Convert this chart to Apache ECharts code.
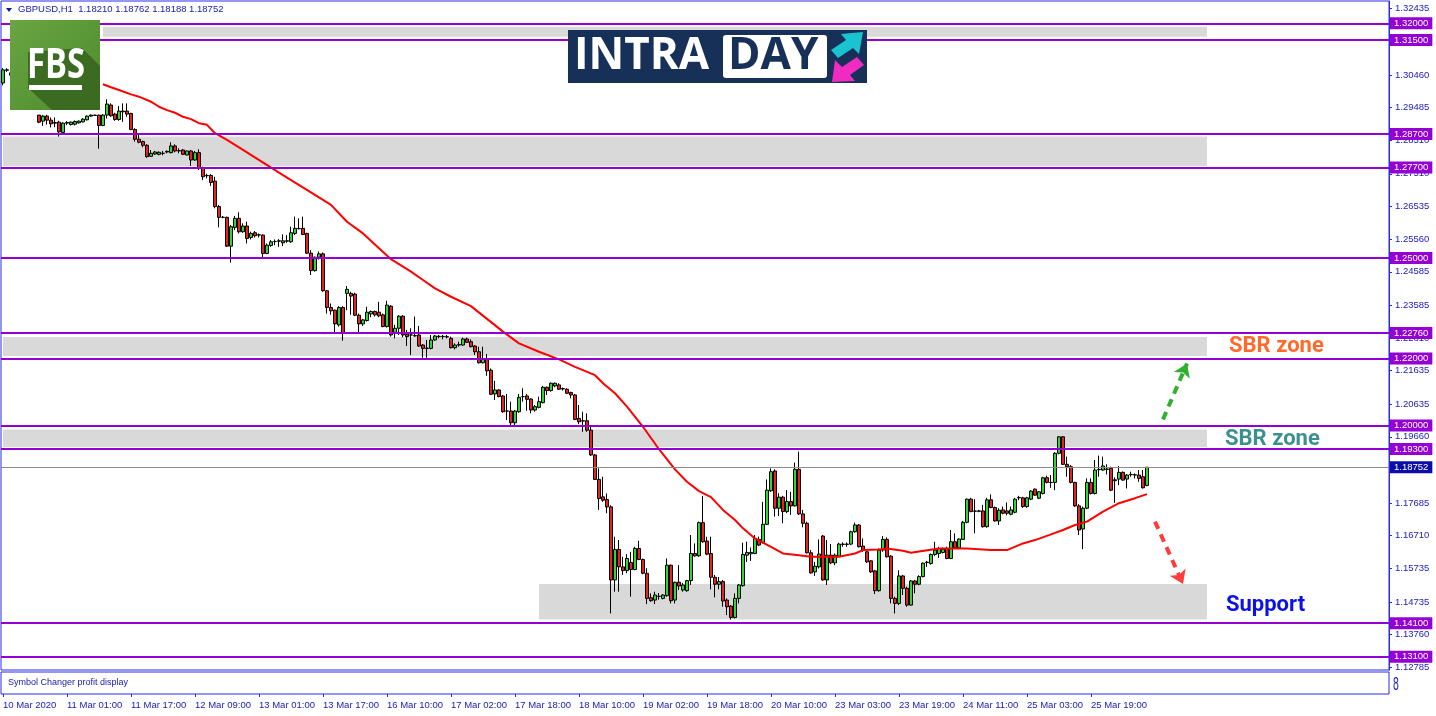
<!DOCTYPE html>
<html>
<head>
<meta charset="utf-8">
<script src="https://cdn.jsdelivr.net/npm/echarts@6/dist/echarts.min.js"></script>
<style>
  html, body { margin: 0; padding: 0; background: #fff; }
  #chart { width: 1436px; height: 716px; }
</style>
</head>
<body>
<div id="chart"></div>
<script>
// GBPUSD H1, one row per bar: [open, high, low, close]
const bars = [
  [1.3022,1.3066,1.3015,1.3061],[1.3061,1.3066,1.3055,1.3060],[1.3045,1.3066,1.3030,1.3052],[1.3052,1.3060,1.3012,1.3020],
  [1.3020,1.3028,1.2990,1.2998],[1.2998,1.3015,1.2985,1.3006],[1.3006,1.3010,1.2962,1.2975],[1.2975,1.2982,1.2952,1.2960],
  [1.2960,1.2968,1.2946,1.2950],[1.2926,1.2926,1.2902,1.2905],[1.2908,1.2926,1.2894,1.2923],[1.2923,1.2927,1.2898,1.2911],
  [1.2911,1.2919,1.2889,1.2900],[1.2904,1.2919,1.2890,1.2902],[1.2905,1.2909,1.2862,1.2876],[1.2874,1.2905,1.2872,1.2902],
  [1.2902,1.2908,1.2896,1.2904],[1.2898,1.2907,1.2895,1.2905],[1.2899,1.2910,1.2895,1.2907],[1.2903,1.2910,1.2901,1.2908],
  [1.2906,1.2917,1.2904,1.2914],[1.2912,1.2925,1.2910,1.2923],[1.2923,1.2928,1.2921,1.2926],[1.2925,1.2927,1.2924,1.2926],
  [1.2926,1.2927,1.2826,1.2895],[1.2895,1.2929,1.2893,1.2926],[1.2926,1.2973,1.2916,1.2959],[1.2956,1.2961,1.2921,1.2924],
  [1.2929,1.2933,1.2909,1.2913],[1.2913,1.2953,1.2909,1.2938],[1.2938,1.2961,1.2906,1.2936],[1.2938,1.2961,1.2921,1.2929],
  [1.2931,1.2933,1.2881,1.2883],[1.2883,1.2887,1.2847,1.2854],[1.2854,1.2867,1.2842,1.2845],[1.2847,1.2850,1.2830,1.2836],
  [1.2836,1.2839,1.2799,1.2802],[1.2803,1.2822,1.2802,1.2812],[1.2810,1.2819,1.2807,1.2816],[1.2809,1.2818,1.2806,1.2815],
  [1.2812,1.2819,1.2806,1.2812],[1.2816,1.2820,1.2812,1.2818],[1.2814,1.2845,1.2812,1.2834],[1.2834,1.2839,1.2815,1.2819],
  [1.2820,1.2827,1.2812,1.2819],[1.2822,1.2824,1.2807,1.2809],[1.2807,1.2820,1.2806,1.2819],[1.2819,1.2822,1.2774,1.2792],
  [1.2792,1.2819,1.2790,1.2814],[1.2814,1.2824,1.2762,1.2769],[1.2769,1.2772,1.2732,1.2742],[1.2745,1.2751,1.2737,1.2746],
  [1.2746,1.2750,1.2715,1.2725],[1.2729,1.2742,1.2648,1.2653],[1.2653,1.2658,1.2591,1.2621],[1.2621,1.2625,1.2618,1.2621],
  [1.2621,1.2623,1.2533,1.2535],[1.2535,1.2598,1.2486,1.2593],[1.2591,1.2625,1.2583,1.2618],[1.2618,1.2636,1.2573,1.2578],
  [1.2578,1.2603,1.2575,1.2595],[1.2595,1.2608,1.2543,1.2558],[1.2561,1.2578,1.2555,1.2573],[1.2575,1.2580,1.2561,1.2566],
  [1.2569,1.2573,1.2561,1.2568],[1.2568,1.2570,1.2499,1.2513],[1.2513,1.2543,1.2511,1.2538],[1.2537,1.2553,1.2533,1.2548],
  [1.2549,1.2555,1.2538,1.2549],[1.2550,1.2556,1.2533,1.2551],[1.2545,1.2570,1.2535,1.2551],[1.2551,1.2568,1.2545,1.2550],
  [1.2548,1.2593,1.2545,1.2575],[1.2573,1.2623,1.2568,1.2588],[1.2588,1.2618,1.2585,1.2587],[1.2588,1.2623,1.2568,1.2570],
  [1.2573,1.2575,1.2512,1.2514],[1.2514,1.2523,1.2449,1.2462],[1.2462,1.2504,1.2459,1.2502],[1.2502,1.2519,1.2495,1.2512],
  [1.2512,1.2516,1.2399,1.2402],[1.2402,1.2404,1.2334,1.2352],[1.2352,1.2364,1.2330,1.2342],[1.2344,1.2346,1.2275,1.2303],
  [1.2300,1.2356,1.2295,1.2352],[1.2352,1.2356,1.2253,1.2277],[1.2394,1.2416,1.2344,1.2406],[1.2394,1.2399,1.2330,1.2386],
  [1.2392,1.2396,1.2326,1.2329],[1.2329,1.2334,1.2277,1.2303],[1.2303,1.2318,1.2297,1.2315],[1.2313,1.2354,1.2310,1.2338],
  [1.2333,1.2343,1.2323,1.2340],[1.2340,1.2343,1.2325,1.2330],[1.2338,1.2369,1.2323,1.2327],[1.2330,1.2334,1.2293,1.2295],
  [1.2295,1.2372,1.2292,1.2359],[1.2356,1.2359,1.2265,1.2270],[1.2275,1.2300,1.2260,1.2290],[1.2290,1.2329,1.2270,1.2326],
  [1.2326,1.2329,1.2263,1.2270],[1.2272,1.2285,1.2237,1.2265],[1.2270,1.2290,1.2210,1.2270],[1.2268,1.2325,1.2265,1.2267],
  [1.2270,1.2297,1.2235,1.2237],[1.2240,1.2243,1.2202,1.2230],[1.2230,1.2255,1.2202,1.2231],[1.2230,1.2270,1.2227,1.2255],
  [1.2255,1.2270,1.2253,1.2267],[1.2266,1.2270,1.2260,1.2265],[1.2265,1.2270,1.2257,1.2266],[1.2265,1.2270,1.2260,1.2264],
  [1.2260,1.2265,1.2230,1.2232],[1.2232,1.2245,1.2227,1.2240],[1.2240,1.2250,1.2235,1.2241],[1.2240,1.2262,1.2238,1.2258],
  [1.2258,1.2262,1.2246,1.2248],[1.2250,1.2257,1.2233,1.2235],[1.2237,1.2240,1.2210,1.2220],[1.2220,1.2235,1.2185,1.2187],
  [1.2187,1.2235,1.2185,1.2200],[1.2197,1.2213,1.2148,1.2163],[1.2165,1.2170,1.2091,1.2093],[1.2094,1.2133,1.2076,1.2106],
  [1.2106,1.2108,1.2084,1.2086],[1.2088,1.2091,1.2038,1.2041],[1.2043,1.2094,1.2016,1.2043],[1.2043,1.2071,1.2001,1.2008],
  [1.2008,1.2046,1.2001,1.2043],[1.2041,1.2094,1.2038,1.2084],[1.2086,1.2111,1.2071,1.2086],[1.2088,1.2094,1.2044,1.2078],
  [1.2079,1.2081,1.2036,1.2046],[1.2046,1.2061,1.2041,1.2056],[1.2054,1.2086,1.2051,1.2071],[1.2068,1.2118,1.2066,1.2114],
  [1.2114,1.2116,1.2091,1.2104],[1.2104,1.2128,1.2101,1.2126],[1.2118,1.2128,1.2114,1.2126],[1.2121,1.2126,1.2106,1.2108],
  [1.2110,1.2113,1.2104,1.2109],[1.2108,1.2111,1.2094,1.2096],[1.2098,1.2101,1.2081,1.2091],[1.2091,1.2094,1.2016,1.2018],
  [1.2021,1.2061,1.2004,1.2011],[1.2013,1.2041,1.1981,1.2014],[1.2014,1.2036,1.1981,1.1986],[1.1986,1.1996,1.1909,1.1912],
  [1.1912,1.1915,1.1837,1.1839],[1.1839,1.1872,1.1748,1.1782],[1.1787,1.1847,1.1772,1.1777],[1.1779,1.1797,1.1738,1.1757],
  [1.1757,1.1762,1.1439,1.1539],[1.1539,1.1668,1.1504,1.1630],[1.1630,1.1658,1.1504,1.1578],[1.1578,1.1608,1.1554,1.1567],
  [1.1567,1.1616,1.1559,1.1603],[1.1591,1.1623,1.1489,1.1570],[1.1570,1.1638,1.1568,1.1633],[1.1633,1.1656,1.1598,1.1600],
  [1.1600,1.1603,1.1556,1.1559],[1.1559,1.1574,1.1467,1.1484],[1.1486,1.1499,1.1474,1.1477],[1.1479,1.1504,1.1467,1.1494],
  [1.1490,1.1500,1.1480,1.1490],[1.1484,1.1497,1.1481,1.1494],[1.1492,1.1603,1.1489,1.1583],[1.1583,1.1585,1.1469,1.1477],
  [1.1479,1.1534,1.1469,1.1532],[1.1532,1.1583,1.1509,1.1521],[1.1509,1.1530,1.1504,1.1524],[1.1507,1.1539,1.1504,1.1537],
  [1.1537,1.1673,1.1524,1.1618],[1.1618,1.1648,1.1608,1.1611],[1.1611,1.1713,1.1608,1.1710],[1.1710,1.1789,1.1650,1.1653],
  [1.1655,1.1668,1.1613,1.1616],[1.1618,1.1668,1.1511,1.1547],[1.1547,1.1554,1.1487,1.1526],[1.1526,1.1548,1.1511,1.1534],
  [1.1534,1.1539,1.1459,1.1476],[1.1479,1.1484,1.1434,1.1459],[1.1461,1.1464,1.1421,1.1427],[1.1427,1.1499,1.1424,1.1484],
  [1.1484,1.1527,1.1469,1.1524],[1.1522,1.1650,1.1519,1.1615],[1.1613,1.1653,1.1593,1.1621],[1.1617,1.1636,1.1596,1.1621],
  [1.1618,1.1673,1.1616,1.1663],[1.1660,1.1668,1.1640,1.1643],[1.1650,1.1772,1.1648,1.1705],[1.1705,1.1839,1.1703,1.1807],
  [1.1805,1.1872,1.1802,1.1862],[1.1864,1.1869,1.1728,1.1753],[1.1753,1.1798,1.1730,1.1786],[1.1786,1.1790,1.1708,1.1743],
  [1.1743,1.1807,1.1738,1.1773],[1.1773,1.1802,1.1733,1.1760],[1.1760,1.1889,1.1758,1.1869],[1.1869,1.1922,1.1733,1.1736],
  [1.1736,1.1748,1.1696,1.1708],[1.1708,1.1713,1.1618,1.1620],[1.1620,1.1628,1.1558,1.1560],[1.1563,1.1593,1.1551,1.1580],
  [1.1578,1.1660,1.1573,1.1616],[1.1670,1.1673,1.1537,1.1539],[1.1539,1.1658,1.1524,1.1613],[1.1613,1.1646,1.1586,1.1590],
  [1.1590,1.1618,1.1583,1.1613],[1.1610,1.1650,1.1608,1.1646],[1.1645,1.1651,1.1638,1.1646],[1.1646,1.1651,1.1638,1.1645],
  [1.1646,1.1686,1.1643,1.1683],[1.1683,1.1710,1.1680,1.1703],[1.1703,1.1706,1.1636,1.1638],[1.1640,1.1663,1.1623,1.1628],
  [1.1623,1.1626,1.1590,1.1593],[1.1596,1.1598,1.1560,1.1563],[1.1566,1.1569,1.1497,1.1507],[1.1507,1.1633,1.1504,1.1628],
  [1.1628,1.1670,1.1623,1.1660],[1.1660,1.1666,1.1606,1.1608],[1.1610,1.1613,1.1469,1.1484],[1.1484,1.1489,1.1439,1.1469],
  [1.1469,1.1568,1.1464,1.1551],[1.1551,1.1554,1.1494,1.1514],[1.1514,1.1519,1.1459,1.1464],[1.1464,1.1539,1.1462,1.1536],
  [1.1536,1.1539,1.1499,1.1526],[1.1526,1.1553,1.1523,1.1549],[1.1549,1.1591,1.1547,1.1589],[1.1591,1.1596,1.1578,1.1592],
  [1.1588,1.1618,1.1585,1.1615],[1.1615,1.1653,1.1611,1.1628],[1.1618,1.1638,1.1605,1.1633],[1.1621,1.1636,1.1618,1.1631],
  [1.1633,1.1638,1.1601,1.1603],[1.1603,1.1688,1.1601,1.1653],[1.1653,1.1678,1.1631,1.1635],[1.1635,1.1663,1.1631,1.1661],
  [1.1660,1.1715,1.1658,1.1711],[1.1711,1.1782,1.1708,1.1780],[1.1780,1.1784,1.1741,1.1743],[1.1745,1.1780,1.1678,1.1744],
  [1.1745,1.1748,1.1741,1.1744],[1.1745,1.1763,1.1695,1.1698],[1.1698,1.1784,1.1695,1.1778],[1.1778,1.1794,1.1753,1.1755],
  [1.1755,1.1758,1.1713,1.1715],[1.1715,1.1753,1.1703,1.1747],[1.1748,1.1758,1.1735,1.1738],[1.1745,1.1770,1.1732,1.1738],
  [1.1735,1.1758,1.1732,1.1748],[1.1741,1.1784,1.1738,1.1780],[1.1784,1.1790,1.1777,1.1785],[1.1784,1.1787,1.1754,1.1758],
  [1.1758,1.1787,1.1754,1.1784],[1.1780,1.1807,1.1777,1.1804],[1.1810,1.1812,1.1790,1.1792],[1.1783,1.1804,1.1780,1.1802],
  [1.1797,1.1847,1.1794,1.1844],[1.1844,1.1850,1.1827,1.1830],[1.1830,1.1852,1.1814,1.1830],[1.1830,1.1920,1.1807,1.1917],
  [1.1917,1.1968,1.1914,1.1966],[1.1966,1.1968,1.1882,1.1884],[1.1884,1.1907,1.1847,1.1877],[1.1877,1.1882,1.1827,1.1830],
  [1.1830,1.1832,1.1757,1.1760],[1.1760,1.1765,1.1673,1.1688],[1.1691,1.1758,1.1631,1.1753],[1.1753,1.1842,1.1750,1.1830],
  [1.1830,1.1842,1.1794,1.1797],[1.1797,1.1897,1.1794,1.1867],[1.1868,1.1910,1.1847,1.1869],[1.1867,1.1907,1.1865,1.1879],
  [1.1870,1.1884,1.1854,1.1869],[1.1872,1.1877,1.1804,1.1807],[1.1835,1.1845,1.1769,1.1838],[1.1840,1.1879,1.1822,1.1860],
  [1.1860,1.1863,1.1835,1.1837],[1.1840,1.1855,1.1812,1.1852],[1.1853,1.1862,1.1847,1.1854],[1.1852,1.1857,1.1842,1.1853],
  [1.1852,1.1867,1.1832,1.1842],[1.1847,1.1867,1.1812,1.1814],[1.18210,1.18762,1.18188,1.18752]
];

// moving average: [bar index, price]
const maPoints = [
  [25,1.3018],[27,1.3009],[29,1.3001],[32,1.2988],[34,1.2981],[37,1.2966],[39,1.2951],[41,1.2941],
  [43,1.2933],[45,1.2921],[47,1.2914],[49,1.2902],[51,1.2897],[53,1.2872],[56,1.2852],[58,1.2837],
  [60,1.2822],[70,1.2747],[80,1.2673],[82,1.2658],[86,1.2608],[90,1.2573],[94,1.2529],[97,1.2496],
  [102,1.2459],[105,1.2434],[108,1.2409],[112,1.2384],[117,1.2356],[125,1.2280],[129,1.2245],[134,1.2220],
  [139,1.2197],[143,1.2175],[148,1.2150],[150,1.2126],[153,1.2096],[156,1.2056],[160,1.1996],[164,1.1929],
  [168,1.1869],[171,1.1832],[174,1.1804],[177,1.1786],[180,1.1748],[183,1.1718],[185,1.1693],[188,1.1663],
  [192,1.1638],[195,1.1618],[199,1.1613],[202,1.1608],[209,1.1608],[213,1.1618],[215,1.1628],[219,1.1630],
  [221,1.1633],[225,1.1626],[227,1.1620],[229,1.1624],[234,1.1633],[241,1.1633],[247,1.1628],[251,1.1628],
  [255,1.1648],[258,1.1658],[262,1.1675],[265,1.1688],[268,1.1703],[271,1.1713],[275,1.1743],[279,1.1768],
  [283,1.1783],[286,1.1795]
];

const tickLabels = ['10 Mar 2020','11 Mar 01:00','11 Mar 17:00','12 Mar 09:00','13 Mar 01:00','13 Mar 17:00',
  '16 Mar 10:00','17 Mar 02:00','17 Mar 18:00','18 Mar 10:00','19 Mar 02:00','19 Mar 18:00','20 Mar 10:00',
  '23 Mar 03:00','23 Mar 19:00','24 Mar 11:00','25 Mar 03:00','25 Mar 19:00'];
const priceTicks = [1.32435,1.31460,1.30460,1.29485,1.28510,1.27510,1.26535,1.25560,1.24585,1.23585,1.22610,
  1.21635,1.20635,1.19660,1.18685,1.17685,1.16710,1.15735,1.14735,1.13760,1.12785];
const levels = [1.32,1.315,1.287,1.277,1.25,1.2276,1.22,1.20,1.193,1.141,1.131];
// gray zones: [from bar, to bar, low, high]
const zones = [[25,301,1.3160,1.3190],[0,301,1.2774,1.2862],[0,301,1.2207,1.2264],[0,301,1.1936,1.1988],[134,301,1.1421,1.1527]];
// dashed arrows: [from bar, from price, to bar, to price]
const upArrow = [290,1.2018,296,1.2185];
const downArrow = [288,1.1713,295,1.1527];
const lastPrice = 1.18752;
const slotCount = 347;

const categories = [];
for (let i = 0; i < slotCount; i++) categories.push('b' + i);

const axisText = '#2020c0';
const frame = '#2a2ae6';
const font = 'Liberation Sans';
const showTick = i => i % 16 === 0 && i / 16 < tickLabels.length;

const chart = echarts.init(document.getElementById('chart'));
chart.setOption({
  animation: false,
  backgroundColor: '#ffffff',
  grid: [
    { left: 1, right: 47, top: 1, bottom: 46, show: true, borderColor: frame, borderWidth: 1 },
    { left: 1, right: 47, top: 672, bottom: 22, show: true, borderColor: frame, borderWidth: 1 }
  ],
  xAxis: [
    { type: 'category', data: categories, gridIndex: 0, boundaryGap: true,
      axisLine: { show: false }, axisTick: { show: false }, axisLabel: { show: false }, splitLine: { show: false } },
    { type: 'category', data: categories, gridIndex: 1, boundaryGap: true, position: 'bottom',
      axisLine: { show: false },
      axisTick: { show: true, alignWithLabel: true, interval: showTick, length: 3, lineStyle: { color: frame } },
      axisLabel: { show: true, interval: showTick, align: 'left', margin: 6, color: axisText,
        fontFamily: font, fontSize: 9.5, formatter: (v, i) => tickLabels[i / 16] || '' },
      splitLine: { show: false } }
  ],
  yAxis: [
    { type: 'value', gridIndex: 0, position: 'right', min: 1.12703, max: 1.32665, scale: true,
      axisLine: { show: true, lineStyle: { color: frame } },
      axisTick: { show: true, length: 3, customValues: priceTicks, lineStyle: { color: frame } },
      axisLabel: { show: true, customValues: priceTicks, margin: 6, color: axisText, fontFamily: font,
        fontSize: 9.5, formatter: v => v.toFixed(5) },
      splitLine: { show: false } },
    { type: 'value', gridIndex: 1, position: 'right', min: 0, max: 1,
      axisLine: { show: false }, axisTick: { show: false }, axisLabel: { show: false }, splitLine: { show: false } }
  ],
  series: [
    {
      type: 'candlestick',
      xAxisIndex: 0, yAxisIndex: 0,
      barWidth: 3,
      data: bars.map(b => [b[0], b[3], b[2], b[1]]),
      itemStyle: { color: '#2ed82e', color0: '#e8231f', borderColor: '#000', borderColor0: '#000', borderWidth: 1 },
      markArea: {
        silent: true,
        itemStyle: { color: '#d9d9d9' },
        data: zones.map(z => [{ xAxis: z[0], yAxis: z[2] }, { xAxis: z[1], yAxis: z[3] }])
      },
      markLine: {
        silent: true,
        precision: 5,
        symbol: ['none', 'none'],
        data: levels.map(v => ({
          yAxis: v,
          lineStyle: { color: '#9400d3', width: 2, type: 'solid' },
          label: { show: true, position: 'end', distance: 1, formatter: v.toFixed(5), color: '#fff',
            backgroundColor: '#9400d3', padding: [1, 4, 1, 4], fontFamily: font, fontSize: 9.5 }
        })).concat([{
          yAxis: lastPrice,
          lineStyle: { color: '#8c8c8c', width: 1, type: 'solid' },
          label: { show: true, position: 'end', distance: 1, formatter: lastPrice.toFixed(5), color: '#fff',
            backgroundColor: '#0c0ca8', padding: [1, 4, 1, 4], fontFamily: font, fontSize: 9.5 }
        }])
      }
    },
    {
      type: 'line',
      xAxisIndex: 0, yAxisIndex: 0,
      data: maPoints,
      symbol: 'none',
      lineStyle: { color: '#ff0000', width: 2 },
      z: 3
    },
    {
      type: 'lines',
      coordinateSystem: 'cartesian2d',
      xAxisIndex: 0, yAxisIndex: 0,
      symbol: ['none', 'arrow'],
      symbolSize: 13,
      z: 4,
      data: [
        { coords: [[upArrow[0], upArrow[1]], [upArrow[2], upArrow[3]]],
          lineStyle: { color: '#2fb02f', width: 4, type: [8, 6], opacity: 1 } },
        { coords: [[downArrow[0], downArrow[1]], [downArrow[2], downArrow[3]]],
          lineStyle: { color: '#ff3b3b', width: 4, type: [8, 6], opacity: 1 } }
      ]
    }
  ],
  graphic: [
    // title
    { type: 'polygon', shape: { points: [[6, 8], [12, 8], [9, 12]] }, style: { fill: '#1a1a90' } },
    { type: 'text', left: 18, top: 4, style: { text: 'GBPUSD,H1  1.18210 1.18762 1.18188 1.18752',
      fill: '#2020b0', font: '9.5px "Liberation Sans"' } },
    // FBS logo
    { type: 'rect', shape: { x: 10, y: 20, width: 90, height: 90 },
      style: { fill: new echarts.graphic.LinearGradient(0, 0, 1, 1, [
        { offset: 0, color: '#6aa543' }, { offset: 1, color: '#4b8a2b' }]) }, z: 10 },
    { type: 'polygon', shape: { points: [[28, 52], [82, 48], [100, 66], [100, 110], [52, 110], [28, 88]] },
      style: { fill: '#3b6b21' }, z: 10 },
    { type: 'text', x: 27, y: 45, scaleX: 0.78,
      style: { text: 'FBS', fill: '#ffffff', font: 'bold 42px "Open Sans"' }, z: 11 },
    { type: 'rect', shape: { x: 29, y: 85, width: 53, height: 5 }, style: { fill: '#ffffff' }, z: 11 },
    // INTRADAY logo
    { type: 'rect', shape: { x: 568, y: 30, width: 299, height: 53 }, style: { fill: '#163058' }, z: 10 },
    { type: 'text', x: 574, y: 34, style: { text: 'INTRA', fill: '#ffffff', font: 'bold 44px "Open Sans"' }, z: 11 },
    { type: 'rect', shape: { x: 723, y: 35, width: 104, height: 43, r: 3 }, style: { fill: '#ffffff' }, z: 11 },
    { type: 'text', x: 728, y: 34, style: { text: 'DAY', fill: '#163058', font: 'bold 44px "Open Sans"' }, z: 12 },
    { type: 'polygon', shape: { points: [[838, 58], [831, 50], [846, 40], [841, 34], [863, 32], [859, 54], [853, 48]] },
      style: { fill: '#19c3cf' }, z: 11 },
    { type: 'polygon', shape: { points: [[857, 57], [864, 65], [850, 75], [855, 81], [832, 82], [835, 60], [842, 67]] },
      style: { fill: '#f02bc2' }, z: 11 },
    // annotations
    { type: 'text', x: 1229, y: 335, style: { text: 'SBR zone', fill: '#ff6a2b', font: 'bold 22px Roboto' } },
    { type: 'text', x: 1225, y: 428, style: { text: 'SBR zone', fill: '#3d9090', font: 'bold 22px Roboto' } },
    { type: 'text', x: 1226, y: 594, style: { text: 'Support', fill: '#0b12e8', font: 'bold 22px Roboto' } },
    // sub window
    { type: 'text', x: 8, y: 678, style: { text: 'Symbol Changer profit display', fill: '#2020b0', font: '9px "Liberation Sans"' } },
    { type: 'text', x: 1393, y: 675, scaleX: 0.55, style: { text: '8', fill: '#2020c0', font: '19px "Liberation Sans"' } }
  ]
});
</script>
</body>
</html>
